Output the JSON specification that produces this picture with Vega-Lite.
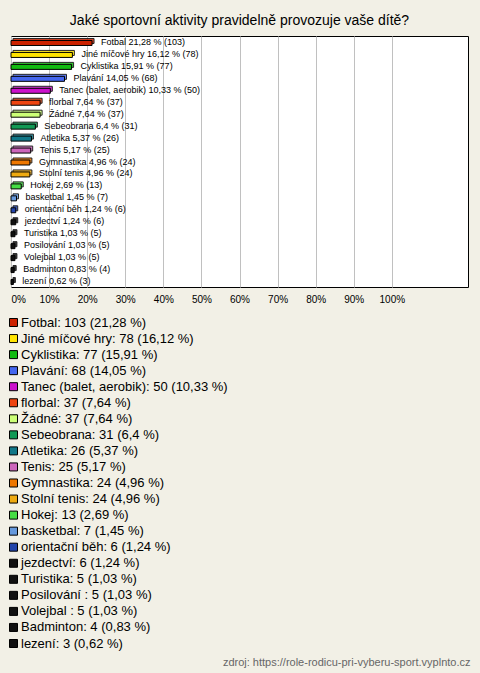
{
  "$schema": "https://vega.github.io/schema/vega-lite/v6.json",
  "width": 457,
  "height": 251,
  "autosize": {"type": "none"},
  "padding": {"left": 11, "top": 36, "right": 12, "bottom": 386},
  "background": "#f2f0e6",
  "title": {
    "text": "Jaké sportovní aktivity pravidelně provozuje vaše dítě?",
    "fontSize": 14,
    "fontWeight": "normal",
    "color": "#000000",
    "anchor": "middle",
    "baseline": "alphabetic",
    "offset": 12,
    "dy": 15
  },
  "config": {
    "font": "Liberation Sans",
    "view": {"stroke": "#000000", "strokeWidth": 1, "fill": "#ffffff"}
  },
  "data": {
    "values": [
      {"sport": "Fotbal", "count": 103, "pct": 21.28, "label": "Fotbal 21,28 % (103)", "legend": "Fotbal: 103 (21,28 %)"},
      {"sport": "Jiné míčové hry", "count": 78, "pct": 16.12, "label": "Jiné míčové hry 16,12 % (78)", "legend": "Jiné míčové hry: 78 (16,12 %)"},
      {"sport": "Cyklistika", "count": 77, "pct": 15.91, "label": "Cyklistika 15,91 % (77)", "legend": "Cyklistika: 77 (15,91 %)"},
      {"sport": "Plavání", "count": 68, "pct": 14.05, "label": "Plavání 14,05 % (68)", "legend": "Plavání: 68 (14,05 %)"},
      {"sport": "Tanec (balet, aerobik)", "count": 50, "pct": 10.33, "label": "Tanec (balet, aerobik) 10,33 % (50)", "legend": "Tanec (balet, aerobik): 50 (10,33 %)"},
      {"sport": "florbal", "count": 37, "pct": 7.64, "label": "florbal 7,64 % (37)", "legend": "florbal: 37 (7,64 %)"},
      {"sport": "Žádné", "count": 37, "pct": 7.64, "label": "Žádné 7,64 % (37)", "legend": "Žádné: 37 (7,64 %)"},
      {"sport": "Sebeobrana", "count": 31, "pct": 6.4, "label": "Sebeobrana 6,4 % (31)", "legend": "Sebeobrana: 31 (6,4 %)"},
      {"sport": "Atletika", "count": 26, "pct": 5.37, "label": "Atletika 5,37 % (26)", "legend": "Atletika: 26 (5,37 %)"},
      {"sport": "Tenis", "count": 25, "pct": 5.17, "label": "Tenis 5,17 % (25)", "legend": "Tenis: 25 (5,17 %)"},
      {"sport": "Gymnastika", "count": 24, "pct": 4.96, "label": "Gymnastika 4,96 % (24)", "legend": "Gymnastika: 24 (4,96 %)"},
      {"sport": "Stolní tenis", "count": 24, "pct": 4.96, "label": "Stolní tenis 4,96 % (24)", "legend": "Stolní tenis: 24 (4,96 %)"},
      {"sport": "Hokej", "count": 13, "pct": 2.69, "label": "Hokej 2,69 % (13)", "legend": "Hokej: 13 (2,69 %)"},
      {"sport": "basketbal", "count": 7, "pct": 1.45, "label": "basketbal 1,45 % (7)", "legend": "basketbal: 7 (1,45 %)"},
      {"sport": "orientační běh", "count": 6, "pct": 1.24, "label": "orientační běh 1,24 % (6)", "legend": "orientační běh: 6 (1,24 %)"},
      {"sport": "jezdectví", "count": 6, "pct": 1.24, "label": "jezdectví 1,24 % (6)", "legend": "jezdectví: 6 (1,24 %)"},
      {"sport": "Turistika", "count": 5, "pct": 1.03, "label": "Turistika 1,03 % (5)", "legend": "Turistika: 5 (1,03 %)"},
      {"sport": "Posilování ", "count": 5, "pct": 1.03, "label": "Posilování  1,03 % (5)", "legend": "Posilování : 5 (1,03 %)"},
      {"sport": "Volejbal ", "count": 5, "pct": 1.03, "label": "Volejbal  1,03 % (5)", "legend": "Volejbal : 5 (1,03 %)"},
      {"sport": "Badminton", "count": 4, "pct": 0.83, "label": "Badminton 0,83 % (4)", "legend": "Badminton: 4 (0,83 %)"},
      {"sport": "lezení", "count": 3, "pct": 0.62, "label": "lezení 0,62 % (3)", "legend": "lezení: 3 (0,62 %)"}
    ]
  },
  "encoding": {
    "y": {"field": "sport", "type": "nominal", "sort": null, "axis": null, "scale": {"paddingInner": 0, "paddingOuter": 0}},
    "x": {
      "field": "pct",
      "type": "quantitative",
      "scale": {"domain": [0, 120], "nice": false},
      "axis": {
        "values": [0, 10, 20, 30, 40, 50, 60, 70, 80, 90, 100],
        "labelExpr": "datum.value + '%'",
        "labelFontSize": 10,
        "labelColor": "#000000",
        "labelFlush": true,
        "labelPadding": 7,
        "ticks": false,
        "domain": false,
        "grid": true,
        "gridColor": "#c0c0c0",
        "gridWidth": 1,
        "title": "zdroj: https://role-rodicu-pri-vyberu-sport.vyplnto.cz",
        "titleFontSize": 11,
        "titleFontWeight": "normal",
        "titleColor": "#666666",
        "titleAnchor": "end",
        "titleAlign": "right",
        "titleBaseline": "middle",
        "titleX": 459,
        "titleY": 375
      }
    }
  },
  "layer": [
    {
      "mark": {"type": "bar", "size": 5, "xOffset": 2, "yOffset": -1, "stroke": "#000000", "strokeWidth": 1, "opacity": 0.85},
      "encoding": {
        "color": {
          "field": "legend",
          "type": "nominal",
          "scale": {
            "domain": ["Fotbal: 103 (21,28 %)", "Jiné míčové hry: 78 (16,12 %)", "Cyklistika: 77 (15,91 %)", "Plavání: 68 (14,05 %)", "Tanec (balet, aerobik): 50 (10,33 %)", "florbal: 37 (7,64 %)", "Žádné: 37 (7,64 %)", "Sebeobrana: 31 (6,4 %)", "Atletika: 26 (5,37 %)", "Tenis: 25 (5,17 %)", "Gymnastika: 24 (4,96 %)", "Stolní tenis: 24 (4,96 %)", "Hokej: 13 (2,69 %)", "basketbal: 7 (1,45 %)", "orientační běh: 6 (1,24 %)", "jezdectví: 6 (1,24 %)", "Turistika: 5 (1,03 %)", "Posilování : 5 (1,03 %)", "Volejbal : 5 (1,03 %)", "Badminton: 4 (0,83 %)", "lezení: 3 (0,62 %)"],
            "range": ["#cc2200", "#ffe400", "#11bb11", "#4466ee", "#cc11cc", "#ee4411", "#ccff77", "#119955", "#117788", "#cc66bb", "#ee7700", "#eeaa11", "#44dd44", "#6699dd", "#2244aa", "#111111", "#111111", "#111111", "#111111", "#111111", "#111111"]
          },
          "legend": {
            "orient": "none",
            "legendX": -4,
            "legendY": 280,
            "title": null,
            "symbolType": "square",
            "symbolSize": 64,
            "symbolStrokeColor": "#000000",
            "symbolStrokeWidth": 1,
            "symbolOpacity": 1,
            "labelFontSize": 13,
            "labelColor": "#000000",
            "labelLimit": 0,
            "labelOffset": 1,
            "rowPadding": 2.05
          }
        }
      }
    },
    {
      "mark": {"type": "bar", "size": 5, "yOffset": 1, "stroke": "#000000", "strokeWidth": 1},
      "encoding": {
        "color": {"field": "legend", "type": "nominal"}
      }
    },
    {
      "mark": {"type": "text", "align": "left", "baseline": "middle", "dx": 9, "fontSize": 9, "color": "#000000"},
      "encoding": {
        "text": {"field": "label"}
      }
    }
  ]
}
